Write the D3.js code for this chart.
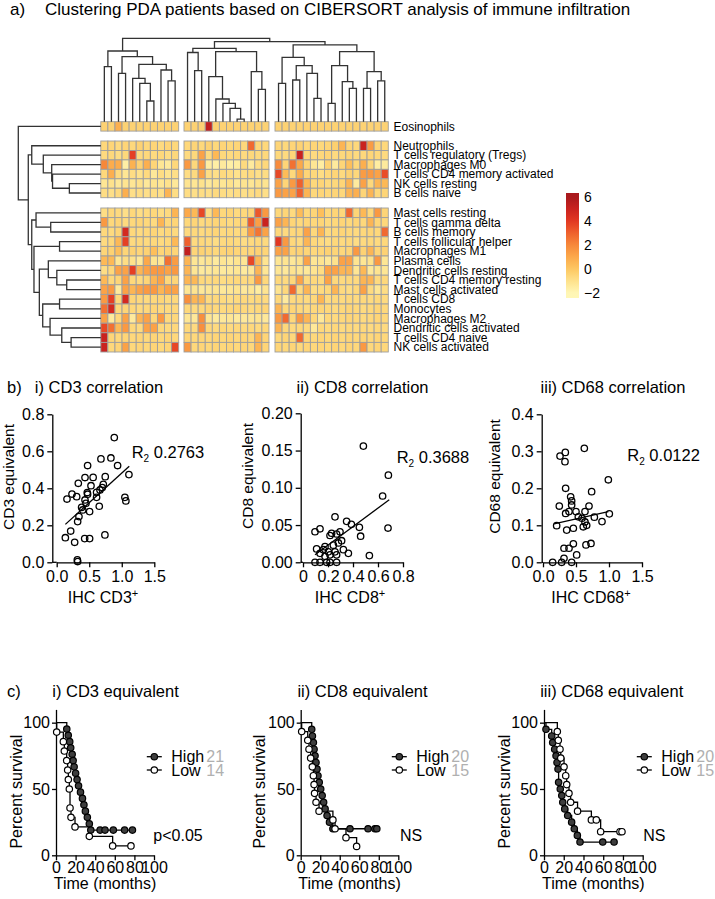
<!DOCTYPE html>
<html><head><meta charset="utf-8">
<script src="https://cdn.jsdelivr.net/npm/d3@7/dist/d3.min.js"></script>
<style>
html,body{margin:0;padding:0;background:#fff}
svg text{font-family:'Liberation Sans',Arial,Helvetica,sans-serif}
</style></head><body>
<svg id="fig" width="715" height="899"></svg>
<script>
// ===================== DATA =====================
// ---- a) heatmap ----
const rowLabelsEos = ["Eosinophils"];
const rowLabelsTop = ["Neutrophils","T cells regulatory (Tregs)","Macrophages M0","T cells CD4 memory activated","NK cells resting","B cells naive"];
const rowLabelsBottom = ["Mast cells resting","T cells gamma delta","B cells memory","T cells follicular helper","Macrophages M1","Plasma cells","Dendritic cells resting","T cells CD4 memory resting","Mast cells activated","T cells CD8","Monocytes","Macrophages M2","Dendritic cells activated","T cells CD4 naive","NK cells activated"];
const columnsPerBlock = [11,12,16];
const heatEos = [
 [-0.4,-0.4,0.8,-0.4,-0.4,-0.4,-0.4,-0.4,-0.4,-0.4,-0.4, -0.4,-0.4,-0.4,5.2,-0.4,-0.4,-0.4,-0.4,-0.4,-0.4,-0.4,-0.4, -0.4,-0.4,-0.4,-0.4,-0.4,-0.4,-0.4,-0.4,-0.4,-0.4,-0.4,-0.4,-0.4,-0.4,-0.4,-0.4]
];
const heatTop = [
 [-0.6,-0.5,-0.7,-0.5,-0.6,-0.4,-0.6,-0.5,-0.7,-0.5,-0.6, -0.6,-0.5,-0.6,-0.4,-0.6,-0.5,-0.6,-0.5,-0.6,2.8,-0.5,-0.6, -0.5,-0.6,-0.5,-0.4,-0.6,-0.5,-0.6,-0.5,-0.3,0.6,-0.5,-0.6,5.0,1.4,-0.5,-0.6],
 [-0.7,-0.6,-0.8,-0.6,3.8,-0.7,-0.6,-0.7,-0.6,-0.8,-0.6, -0.7,-0.6,1.2,-0.7,0.5,-0.6,-0.7,-0.6,-0.7,-0.6,-0.7,-0.6, -0.6,-0.7,-0.5,5.0,-0.6,-0.7,-0.6,-0.5,-0.7,-0.6,-0.5,-0.7,-0.6,-0.5,-0.6,-0.7],
 [2.0,0.9,0.9,-1.6,0.7,-0.4,0.8,-0.5,-1.2,-1.4,-0.6, 1.5,-0.6,1.5,-1.5,-1.6,-1.4,-1.6,-1.5,-0.7,-1.4,-0.8,-0.6, 1.9,-0.5,2.6,1.0,-0.5,-1.2,-1.5,-0.4,-1.4,-0.5,0.3,-0.6,0.8,-0.5,-1.5,-1.4],
 [-0.6,0.8,-0.7,-1.2,-0.8,-1.0,-0.7,-1.3,-0.8,-1.1,-0.9, -0.8,-0.7,1.2,-0.8,-0.9,-0.7,-0.8,-1.0,-0.8,-0.7,-0.9,-0.8, 3.6,0.4,-0.6,0.9,-0.5,-0.6,-0.8,-0.6,-0.5,-0.7,-0.4,-0.6,1.4,1.5,1.2,3.5],
 [-1.2,-1.0,-1.3,-1.1,-1.2,-1.0,-1.3,-1.1,-1.2,-1.0,-1.3, -1.1,-1.2,-1.0,-1.3,-1.1,-1.2,-1.0,-1.3,-1.1,-1.2,-1.0,-1.1, 1.2,-0.5,1.5,3.0,0.5,-0.6,-0.5,-0.7,-0.6,-0.5,0.6,-1.4,1.2,-0.6,0.6,0.5],
 [-0.8,-0.9,-0.7,0.8,-0.9,-0.8,-0.9,-0.8,-0.9,0.6,-0.8, -0.8,-0.9,-0.8,-0.9,-0.7,-0.8,-0.9,-0.8,-0.9,-0.8,-0.7,-0.9, 1.5,1.2,1.2,3.0,0.6,-0.6,-0.5,-0.6,-0.5,-0.6,0.6,0.8,-0.5,0.6,-0.6,-0.5]
];
const heatBottom = [
 [-0.8,-0.6,-0.7,-0.9,-0.6,-0.8,-0.7,-0.6,-0.8,-0.7,0.6, 1.0,0.5,3.6,-0.8,0.5,-0.6,-0.5,-0.7,-0.6,-0.5,3.2,1.5, -0.6,-0.5,-0.7,0.4,-0.6,-0.5,0.3,-0.6,-0.5,-0.6,2.8,-0.5,0.5,-0.6,1.5,-0.5],
 [1.5,-0.6,-0.5,-0.7,-0.6,-0.5,-0.6,-0.7,0.6,-0.6,-0.5, -0.6,-0.5,-0.7,-0.6,-0.5,-0.6,-0.7,-0.6,-0.5,3.2,1.3,5.0, 1.2,0.6,-0.5,-0.6,-0.5,-0.6,-0.5,-0.7,-0.6,-0.5,-0.6,-0.5,-0.6,0.6,-0.5,-0.6],
 [-0.6,-0.7,-0.5,4.6,-0.6,-0.7,-0.6,-0.5,-0.7,-0.6,-0.7, -0.7,-0.6,-0.7,-0.6,-0.5,-0.7,-0.6,-0.7,-0.6,1.5,2.5,1.2, -0.6,-0.7,-0.6,-0.5,1.2,-0.6,0.6,-0.7,-0.6,-0.5,-0.6,-0.7,-0.6,-0.5,-0.6,2.8],
 [-0.7,-0.6,0.5,3.8,-0.7,-0.6,-0.7,-0.6,-0.7,-0.6,0.5, 3.0,-0.7,-0.6,-0.7,-0.8,-0.7,-0.6,-0.7,-0.8,-0.7,-0.6,-0.7, 4.0,1.5,-0.6,-0.7,0.6,-0.6,-0.7,-0.8,-0.6,-0.7,-0.6,-0.8,-0.7,-0.6,-0.7,-0.6],
 [-0.5,-0.4,0.3,-0.5,-0.4,-0.5,-0.4,0.3,-0.5,-0.4,-0.5, 5.2,-0.5,-0.4,-0.5,-0.6,-0.5,-0.4,-0.5,-0.6,-0.5,-0.4,-0.5, 1.2,1.2,-0.5,-0.4,-0.5,-0.6,-0.5,-0.4,-0.5,-0.6,-0.5,1.5,-0.4,0.6,-0.5,-0.4],
 [0.5,0.5,-1.2,-0.8,-1.0,-1.3,1.0,-1.1,-1.2,2.6,1.4, 0.6,-1.2,-1.3,-1.1,-1.4,-1.2,-1.3,-1.1,-1.2,3.6,0.5,-1.1, -1.2,-1.1,-1.3,-1.0,1.2,-1.2,-1.1,-1.3,-1.0,1.2,1.2,-1.1,-1.2,-1.0,1.5,-1.2],
 [-0.8,-0.6,1.2,1.2,3.8,0.6,1.2,1.5,1.5,1.2,1.5, 0.6,-1.2,-1.4,-1.3,-1.2,-1.4,-1.3,-1.2,-1.4,-1.3,0.6,-1.2, -1.2,-1.3,-1.1,-1.2,-1.3,-1.1,-0.8,1.2,1.2,0.6,0.6,-1.2,0.5,-1.3,-1.1,-1.2],
 [0.5,-0.6,-0.5,1.2,-0.6,-0.7,-0.5,0.6,1.2,-0.6,-0.5, 0.6,0.5,-0.6,-0.7,-0.6,-0.8,-0.7,-0.6,-0.7,-0.6,1.5,-0.6, -0.6,-0.7,-0.6,1.2,-0.7,-0.6,-0.7,1.2,-0.6,-0.7,-0.6,-0.7,0.6,0.6,-0.7,-0.6],
 [1.2,1.5,-1.4,1.2,0.6,1.2,1.5,1.5,0.6,1.2,1.2, -1.2,-1.1,-1.3,-1.2,-1.1,-1.3,-1.2,-1.1,-1.3,-1.2,-1.5,-1.1, -1.1,-0.6,2.8,-0.7,0.6,-0.8,-0.7,-0.6,0.6,-0.7,-0.8,-0.6,1.2,-0.7,-1.2,-0.8],
 [1.5,3.8,-0.6,4.6,-0.5,-0.6,-0.7,-0.6,-0.5,-0.7,-0.6, 1.8,0.6,0.6,-0.7,-0.6,-0.7,-0.8,-0.7,-0.6,-0.7,-0.6,-0.7, -0.6,-1.4,-0.7,-0.6,-0.7,-0.6,0.6,-0.7,-0.6,-0.7,-0.6,-0.7,-0.6,-0.7,-0.6,-0.7],
 [2.6,4.6,-0.6,-0.5,-0.6,-0.7,-0.6,-0.5,-0.6,-0.7,-0.6, -0.6,-0.7,-0.6,-0.5,-0.6,-0.7,-0.6,-0.5,-0.6,-0.7,-0.6,-0.5, 0.6,-0.6,-0.5,-0.6,-0.7,-0.6,-0.5,-0.6,-0.7,-0.6,-0.5,-0.6,-0.7,-0.6,-0.5,-0.6],
 [1.2,-1.4,-0.6,1.2,-1.4,0.6,1.2,-0.6,1.5,-0.7,-0.6, -1.2,-1.3,1.8,-1.2,-1.4,-1.3,-1.2,-1.4,-1.3,-1.2,-1.1,-1.3, 1.5,2.8,-0.6,1.5,0.6,-0.6,-1.3,-0.6,-0.7,-0.6,-0.5,-0.6,-0.7,-0.6,-0.5,-0.6],
 [3.6,2.6,0.5,1.5,-0.6,-0.7,1.2,1.2,-0.6,-0.7,-0.6, -0.6,-0.7,1.8,-0.6,-0.7,-0.6,-0.7,-0.6,-0.7,-0.6,-0.7,-0.6, 0.6,-0.6,-0.7,-0.6,-0.7,-1.3,-0.6,-0.7,-0.6,-0.7,-0.6,-0.7,-0.6,-0.7,-0.6,-0.7],
 [5.0,-0.5,-0.6,-0.5,-0.6,-0.5,-0.6,-0.5,-0.6,-0.5,-0.6, -0.5,-0.6,-0.5,-0.6,-0.5,-0.6,-0.5,-0.6,-0.5,-0.6,0.6,-0.5, -0.6,-0.5,-0.6,2.8,-0.5,-0.6,-0.5,-0.6,-0.5,-0.6,-0.5,-0.6,-0.5,-0.6,-0.5,-0.6],
 [5.0,-0.6,-0.5,1.2,-0.6,-0.5,-0.6,-0.5,-0.6,-0.5,3.6, 1.5,-0.6,-0.5,-0.6,-0.5,-0.6,-0.5,-0.6,-0.5,-0.6,0.6,-0.5, -0.5,-0.6,-0.5,-0.6,-0.5,-0.6,-0.5,-0.6,-0.5,-0.6,-0.5,-0.6,1.5,-0.6,-0.5,-0.6]
];
const legendTicks = [6,4,2,0,-2];
// dendrograms: [height, left, right]; leaves are column / row indices
const colTree = [1.0,
  [0.848,[0.66,0,1],[0.78,[0.58,2,3],[0.688,[0.52,4,[0.46,5,[0.248,6,7]]],[0.62,8,[0.49,9,10]]]]],
  [0.96,
    [0.88,[0.83,11,[0.612,12,13]],[0.84,[0.54,14,[0.272,15,[0.22,16,[0.16,17,[0.032,18,19]]]]],[0.6,20,[0.388,21,22]]]],
    [0.92,[0.772,[0.46,23,24],[0.672,[0.5,25,26],[0.58,27,[0.28,28,29]]]],
          [0.84,[0.672,[0.22,30,31],[0.48,32,[0.4,33,34]]],[0.6,[0.4,35,36],[0.49,37,38]]]]]];
const rowTree = [1.0, 0,
  [0.879,
    [0.837,1,[0.697,2,[0.595,3,[0.585,4,[0.381,5,6]]]]],
    [0.837,[0.785,7,[0.607,8,9]],[0.81,[0.5,10,11],[0.745,[0.636,12,[0.533,13,[0.413,14,15]]],[0.704,[0.5,16,17],[0.615,18,[0.473,19,[0.36,20,21]]]]]]]]];

// ---- b) correlations ----
const cd3IHC = [0.885,0.68,0.833,0.936,0.475,1.11,0.435,0.56,0.746,0.332,0.527,0.716,0.235,0.158,0.307,0.47,0.475,0.613,0.665,0.70,0.435,0.45,0.613,1.048,1.063,0.383,0.40,0.654,0.506,0.342,0.322,0.215,0.133,0.276,0.43,0.506,0.741,0.317,0.322];
const cd3Equiv = [0.674,0.559,0.564,0.523,0.523,0.474,0.458,0.459,0.463,0.427,0.414,0.422,0.369,0.342,0.355,0.377,0.368,0.378,0.391,0.404,0.337,0.319,0.351,0.351,0.332,0.297,0.283,0.303,0.274,0.247,0.22,0.169,0.133,0.108,0.128,0.128,0.148,0.013,0.004];
const cd3Fit = [[0.133,0.205],[1.115,0.519]];
const cd8IHC = [0.483,0.683,0.637,0.256,0.349,0.387,0.136,0.096,0.451,0.68,0.461,0.229,0.269,0.296,0.216,0.309,0.283,0.243,0.176,0.109,0.163,0.203,0.256,0.363,0.136,0.216,0.269,0.531,0.176,0.096,0.136,0.189,0.216,0.269,0.323];
const cd8Equiv = [0.156,0.117,0.089,0.061,0.055,0.051,0.045,0.041,0.047,0.046,0.035,0.039,0.038,0.041,0.036,0.029,0.026,0.023,0.021,0.018,0.017,0.014,0.014,0.012,0.012,0.010,0.010,0.009,0.008,0.0,0.0,0.0,0.0,0.0,0.017];
const cd8Fit = [[0.096,0.010],[0.69,0.084]];
const cd68IHC = [0.626,0.338,0.258,0.333,0.99,0.737,0.343,0.419,0.434,0.434,0.247,0.697,0.343,0.394,0.5,0.636,0.535,0.591,0.778,0.894,1.005,0.636,0.207,0.61,0.662,0.46,0.359,0.318,0.394,0.46,0.651,0.727,0.51,0.318,0.146,0.283,0.434];
const cd68Equiv = [0.308,0.297,0.287,0.272,0.223,0.191,0.2,0.177,0.166,0.155,0.152,0.152,0.132,0.137,0.137,0.137,0.123,0.119,0.122,0.11,0.131,0.109,0.099,0.096,0.1,0.092,0.087,0.038,0.038,0.05,0.047,0.051,0.02,0.011,0.0,0.0,0.0];
const cd68Fit = [[0.167,0.104],[0.99,0.137]];
const r2Values = ["0.2763","0.3688","0.0122"];

// ---- c) survival ----
const cd3HighTime = [11,12.5,14,15,16.5,17.5,18.5,20,21.5,23,25,27,28.5,30,32,34,35.5,45,50,58.5,70,78];
const cd3HighSurv = [95.2,90.5,85.7,81.0,76.2,71.4,66.7,61.9,57.1,52.4,47.6,42.9,38.1,33.3,28.6,23.8,19.0,19.0,19.0,19.0,19.0,19.0];
const cd3LowTime = [0.7,7.5,8.5,10.9,11.9,12.6,13.6,14.3,15.3,19.4,34,57.8,76.5];
const cd3LowSurv = [92.9,85.7,78.6,71.4,64.3,57.1,50.0,35.7,28.6,21.4,14.3,7.1,7.1];
const cd8HighTime = [11.3,12,13,13.7,14.7,15.7,16.7,17.7,19,20.5,22,23.5,25,27,29.5,33,50.5,69,76,78];
const cd8HighSurv = [95,90,85,80,75,70,65,60,55,50,45,40,35,30,25,20,20,20,20,20];
const cd8LowTime = [1,7.2,8.5,10.2,11.9,13,13.7,14.2,15.7,18.8,33,35.2,46.4,57.3];
const cd8LowSurv = [93.3,86.7,80,73.3,66.7,60,53.3,46.7,40,33.3,26.7,20,13.3,6.7];
const cd68HighTime = [2,7.8,8.8,10.8,12.2,13.2,14.2,14.8,16.5,18,19,21,24,28,30.7,33.8,36.5,59.5,71];
const cd68HighSurv = [95,90,85,80,75,70,65,55,50,45,40,35,30,25,20,15,10,10,10];
const cd68LowTime = [13.5,14.5,16.2,17,20.3,22,23,25.3,27,34,48,53,57.4,77,79];
const cd68LowSurv = [93.3,86.7,80,73.3,66.7,60,53.3,46.7,40,33.3,26.7,26.7,17.8,17.8,17.8];
const groupCounts = [[21,14],[20,15],[20,15]];
const survTicksX = [0,20,40,60,80,100];
const survTicksY = [0,50,100];

// ===================== DRAWING =====================
const svg = d3.select("#fig");
svg.append("rect").attr("width",715).attr("height",899).attr("fill","#fff");
function txt(x,y,s,size,anchor,fill){
  return svg.append("text").attr("x",x).attr("y",y).attr("font-size",size)
    .attr("text-anchor",anchor||"start").attr("fill",fill||"#000").text(s);
}

// ---------- a) ----------
txt(10,15,"a)",17);
txt(45,15,"Clustering PDA patients based on CIBERSORT analysis of immune infiltration",17);

const heatRows = heatEos.concat(heatTop, heatBottom);
const rowLabels = rowLabelsEos.concat(rowLabelsTop, rowLabelsBottom);
const groupSizes = [heatEos.length, heatTop.length, heatBottom.length];
const groupTop = [121.7,141,208], groupRowH = [9.4,9.45,9.6];
const blockLeft = [100.8,184,275], cellW = 7.08;
const rowGroup=[], rowInGroup=[];
groupSizes.forEach((n,g)=>{for(let i=0;i<n;i++){rowGroup.push(g);rowInGroup.push(i);}});
const rowScales = groupSizes.map((n,g)=>d3.scaleLinear().domain([0,n]).range([groupTop[g],groupTop[g]+n*groupRowH[g]]));
const colBlock=[], colInBlock=[];
columnsPerBlock.forEach((n,b)=>{for(let i=0;i<n;i++){colBlock.push(b);colInBlock.push(i);}});
const colScales = columnsPerBlock.map((n,b)=>d3.scaleLinear().domain([0,n]).range([blockLeft[b],blockLeft[b]+n*cellW]));
const rowTopY = r => rowScales[rowGroup[r]](rowInGroup[r]);
const rowHt = r => groupRowH[rowGroup[r]];
const colLeftX = c => colScales[colBlock[c]](colInBlock[c]);

const heatColor = d3.scaleLinear()
  .domain([-2,-1,0,1,2,3,4,5,6])
  .range(["#FFF7B6","#FEE28C","#FDC862","#FCA94A","#F7883A","#EF612D","#E23722","#C9221F","#A8191D"])
  .clamp(true);

const cells = [];
heatRows.forEach((row,r)=>row.forEach((v,c)=>cells.push({r,c,v})));
svg.append("g").selectAll("rect").data(cells).join("rect")
  .attr("x",d=>colLeftX(d.c)).attr("y",d=>rowTopY(d.r))
  .attr("width",cellW).attr("height",d=>rowHt(d.r))
  .attr("fill",d=>heatColor(d.v)).attr("stroke","#9e9e9e").attr("stroke-width",0.9);

svg.append("g").selectAll("text").data(rowLabels).join("text")
  .attr("x",393.5).attr("y",(d,i)=>rowTopY(i)+rowHt(i)/2+4.2)
  .attr("font-size",12).attr("fill","#000").text(d=>d);

// dendrograms
function drawTree(g,node,leafPos,hPx,orient){
  if(typeof node==="number") return {p:leafPos(node),h:0};
  const [h,a,b]=node;
  const L=drawTree(g,a,leafPos,hPx,orient), R=drawTree(g,b,leafPos,hPx,orient);
  const hp=hPx(h);
  const d = orient==="top"
    ? `M${L.p},${hPx(L.h)}V${hp}H${R.p}V${hPx(R.h)}`
    : `M${hPx(L.h)},${L.p}H${hp}V${R.p}H${hPx(R.h)}`;
  g.append("path").attr("d",d).attr("fill","none").attr("stroke","#333").attr("stroke-width",1.3);
  return {p:(L.p+R.p)/2,h};
}
const gDen = svg.append("g");
drawTree(gDen,colTree,c=>colLeftX(c)+cellW/2,d3.scaleLinear().domain([0,1]).range([121.7,38.3]),"top");
drawTree(gDen,rowTree,r=>rowTopY(r)+rowHt(r)/2,d3.scaleLinear().domain([0,1]).range([100.8,18.3]),"left");

// legend
const legY = d3.scaleLinear().domain([-2.4,6.3]).range([298,193]);
const defs = svg.append("defs");
const grad = defs.append("linearGradient").attr("id","lg").attr("x1",0).attr("y1",1).attr("x2",0).attr("y2",0);
d3.range(0,1.0001,0.05).forEach(t=>grad.append("stop").attr("offset",t).attr("stop-color",heatColor(-2.4+t*8.7)));
svg.append("rect").attr("x",566).attr("y",legY(6.3)).attr("width",13).attr("height",legY(-2.4)-legY(6.3)).attr("fill","url(#lg)");
legendTicks.forEach(v=>txt(584,legY(v)+5,v<0?"\u2212"+Math.abs(v):String(v),14));

// ---------- b) ----------
function styleAxis(size){
  return g=>{
    g.attr("font-family","'Liberation Sans',Arial,Helvetica,sans-serif").attr("font-size",size);
    g.select(".domain").attr("stroke","#000").attr("stroke-width",1.3);
    g.selectAll(".tick line").attr("stroke","#000").attr("stroke-width",1.3);
    g.selectAll(".tick text").attr("fill","#000");
  };
}
function scatterPanel(o){
  const x=d3.scaleLinear().domain(o.xDomain).range(o.xRange);
  const y=d3.scaleLinear().domain(o.yDomain).range([562.3,o.yTop]);
  svg.append("g").attr("transform",`translate(${o.yAxisX},0)`)
    .call(d3.axisLeft(y).tickValues(o.yTicks).tickFormat((d,i)=>o.yTickLabels[i]).tickSize(5).tickSizeOuter(0).tickPadding(3))
    .call(styleAxis(16));
  svg.append("line").attr("x1",o.yAxisX).attr("x2",o.xRange[0]).attr("y1",562.3).attr("y2",562.3).attr("stroke","#000").attr("stroke-width",1.3);
  svg.append("g").attr("transform","translate(0,562.3)")
    .call(d3.axisBottom(x).tickValues(o.xTicks).tickFormat((d,i)=>o.xTickLabels[i]).tickSize(5).tickSizeOuter(0).tickPadding(3))
    .call(styleAxis(16));
  svg.append("line").attr("x1",x(o.fit[0][0])).attr("y1",y(o.fit[0][1])).attr("x2",x(o.fit[1][0])).attr("y2",y(o.fit[1][1]))
    .attr("stroke","#000").attr("stroke-width",1.3);
  svg.append("g").selectAll("circle").data(d3.zip(o.xs,o.ys)).join("circle")
    .attr("cx",d=>x(d[0])).attr("cy",d=>y(d[1])).attr("r",3.2)
    .attr("fill","none").attr("stroke","#000").attr("stroke-width",1.3);
  txt(o.titleX,393,o.title,16.5,"middle");
  svg.append("text").attr("transform",`translate(${o.yTitleX},${o.yTitleY}) rotate(-90)`)
    .attr("text-anchor","middle").attr("font-size",15.5).attr("fill","#000").text(o.yTitle);
  const xt = svg.append("text").attr("x",o.xTitleX).attr("y",603).attr("text-anchor","middle").attr("font-size",16).attr("fill","#000");
  xt.append("tspan").text(o.xTitle);
  xt.append("tspan").attr("dy",-6).attr("font-size",11).text("+");
  const r = svg.append("text").attr("x",o.rx).attr("y",o.ry).attr("font-size",16.5).attr("fill","#000");
  r.append("tspan").text("R");
  r.append("tspan").attr("dy",4).attr("font-size",10).text("2");
  r.append("tspan").attr("dy",-4).text(" "+o.r2);
}
txt(7,393,"b)",16.5);
scatterPanel({xs:cd3IHC,ys:cd3Equiv,fit:cd3Fit,xDomain:[0,1.5],xRange:[56.7,154.3],yDomain:[0,0.8],yTop:414.3,yAxisX:52.3,
  yTicks:[0,0.2,0.4,0.6,0.8],yTickLabels:["0.0","0.2","0.4","0.6","0.8"],xTicks:[0,0.5,1,1.5],xTickLabels:["0.0","0.5","1.0","1.5"],
  title:"i) CD3 correlation",titleX:99,yTitle:"CD3 equivalent",yTitleX:13.5,yTitleY:477,xTitle:"IHC CD3",xTitleX:103,rx:131.7,ry:458.3,r2:r2Values[0]});
scatterPanel({xs:cd8IHC,ys:cd8Equiv,fit:cd8Fit,xDomain:[0,0.8],xRange:[303,403],yDomain:[0,0.2],yTop:413.3,yAxisX:300.7,
  yTicks:[0,0.05,0.1,0.15,0.2],yTickLabels:["0.00","0.05","0.10","0.15","0.20"],xTicks:[0,0.2,0.4,0.6,0.8],xTickLabels:["0","0.2","0.4","0.6","0.8"],
  title:"ii) CD8 correlation",titleX:362.5,yTitle:"CD8 equivalent",yTitleX:252.5,yTitleY:476,xTitle:"IHC CD8",xTitleX:350,rx:396.7,ry:463.3,r2:r2Values[1]});
scatterPanel({xs:cd68IHC,ys:cd68Equiv,fit:cd68Fit,xDomain:[0,1.5],xRange:[543,642],yDomain:[0,0.4],yTop:414.3,yAxisX:541.7,
  yTicks:[0,0.1,0.2,0.3,0.4],yTickLabels:["0.0","0.1","0.2","0.3","0.4"],xTicks:[0,0.5,1,1.5],xTickLabels:["0.0","0.5","1.0","1.5"],
  title:"iii) CD68 correlation",titleX:613,yTitle:"CD68 equivalent",yTitleX:499.5,yTitleY:476.5,xTitle:"IHC CD68",xTitleX:591,rx:627.3,ry:460.7,r2:r2Values[2]});

// ---------- c) ----------
function kmPanel(o){
  const x=d3.scaleLinear().domain([0,100]).range(o.xRange);
  const y=d3.scaleLinear().domain([0,110]).range([855.3,709.4]);
  svg.append("g").attr("transform",`translate(${o.xRange[0]},0)`)
    .call(d3.axisLeft(y).tickValues(survTicksY).tickSize(4).tickSizeOuter(0).tickPadding(2))
    .call(styleAxis(16));
  svg.append("g").attr("transform","translate(0,855.3)")
    .call(d3.axisBottom(x).tickValues(survTicksX).tickSize(5).tickSizeOuter(0).tickPadding(1.5))
    .call(styleAxis(16));
  const line=d3.line().x(d=>x(d[0])).y(d=>y(d[1]));
  const series=[{t:o.highT,s:o.highS,fill:"#3d3d3d"},{t:o.lowT,s:o.lowS,fill:"#fff"}];
  series.forEach(se=>{
    const pts=[[0,100]]; let prev=100;
    se.t.forEach((ti,i)=>{pts.push([ti,prev]);pts.push([ti,se.s[i]]);prev=se.s[i];});
    svg.append("path").attr("d",line(pts)).attr("fill","none").attr("stroke","#000").attr("stroke-width",1.3);
  });
  series.forEach(se=>{
    svg.append("g").selectAll("circle").data(d3.zip(se.t,se.s)).join("circle")
      .attr("cx",d=>x(d[0])).attr("cy",d=>y(d[1])).attr("r",3.2)
      .attr("fill",se.fill).attr("stroke","#000").attr("stroke-width",1.2);
  });
  [["High",o.counts[0],"#3d3d3d",756.7],["Low",o.counts[1],"#fff",770]].forEach(([lab,n,fill,ly])=>{
    svg.append("line").attr("x1",o.legX-7.5).attr("x2",o.legX+7.5).attr("y1",ly).attr("y2",ly).attr("stroke","#000").attr("stroke-width",1.3);
    svg.append("circle").attr("cx",o.legX).attr("cy",ly).attr("r",3.2).attr("fill",fill).attr("stroke","#000").attr("stroke-width",1.2);
    txt(o.legX+17,ly+5.7,lab,16);
    txt(o.legX+52,ly+5.7,String(n),16,"start","#b0b0b0");
  });
  txt(o.titleX,697,o.title,16.5,"middle");
  svg.append("text").attr("transform",`translate(${o.yTitleX},791.7) rotate(-90)`)
    .attr("text-anchor","middle").attr("font-size",16).attr("fill","#000").text("Percent survival");
  txt((o.xRange[0]+o.xRange[1])/2,889,"Time (months)",16,"middle");
  txt(o.noteX,840.5,o.note,16);
}
txt(7,697,"c)",16.5);
kmPanel({xRange:[56,154],highT:cd3HighTime,highS:cd3HighSurv,lowT:cd3LowTime,lowS:cd3LowSurv,counts:groupCounts[0],
  legX:154.3,title:"i) CD3 equivalent",titleX:115.5,yTitleX:21.5,note:"p<0.05",noteX:153.3});
kmPanel({xRange:[300.7,398.3],highT:cd8HighTime,highS:cd8HighSurv,lowT:cd8LowTime,lowS:cd8LowSurv,counts:groupCounts[1],
  legX:399.3,title:"ii) CD8 equivalent",titleX:362.5,yTitleX:265,note:"NS",noteX:400});
kmPanel({xRange:[544,642.7],highT:cd68HighTime,highS:cd68HighSurv,lowT:cd68LowTime,lowS:cd68LowSurv,counts:groupCounts[2],
  legX:644.3,title:"iii) CD68 equivalent",titleX:611.7,yTitleX:510,note:"NS",noteX:643.3});
</script>
</body></html>
